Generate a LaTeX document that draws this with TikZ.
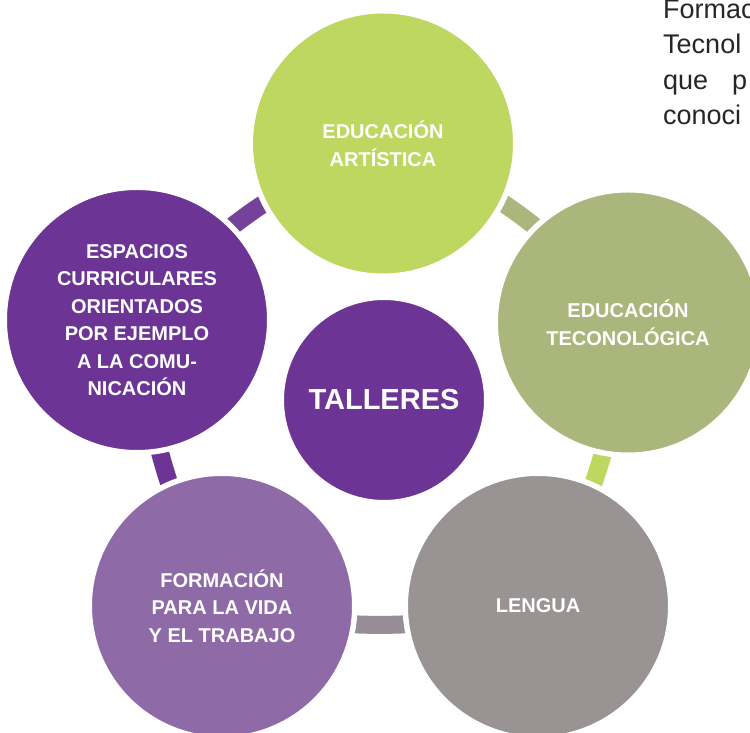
\documentclass[tikz,border=0pt]{standalone}
\usepackage{fontspec}
\setmainfont{Liberation Sans}
\usepackage{tikz}
\usepackage{xcolor}
\definecolor{Lima}{HTML}{BDD761}
\definecolor{Oliva}{HTML}{AAB67C}
\definecolor{Gris}{HTML}{999393}
\definecolor{Lila}{HTML}{8E6AA6}
\definecolor{Uva}{HTML}{6C3595}
\definecolor{Prose}{HTML}{262626}

\pgfdeclarelayer{back}
\pgfsetlayers{back,main}

\begin{document}
\begin{tikzpicture}
    [
        x=1pt, y=1pt,
        petal/.style={circle, draw=white, line width=5.5pt, minimum size=265.5pt, inner sep=0pt,
            text=white, align=center, font=\fontsize{20}{27.5}\selectfont\bfseries},
        link/.style={line width=18pt},
        prose/.style={anchor=base west, inner sep=0pt, text=Prose, font=\fontsize{27}{32}\selectfont}
    ]
    \useasboundingbox (0,0) rectangle (750,733);
    \clip (0,0) rectangle (750,733);
    % text of the page behind the diagram
    \node[prose] (l1) at (663,714) {Formac};
    \node[prose] (l2) at (663,679) {Tecnol};
    \node[prose] (l3) at (663,643.5) {que\hspace{24pt}p};
    \node[prose] (l4) at (663,608) {conoci};
    % the five outer circles and the hub
    \node[petal, fill=Lima] (arte) at (383,589.5) {EDUCACIÓN\\ARTÍSTICA};
    \node[petal, fill=Oliva] (tecno) at (628,410.5) {EDUCACIÓN\\TECONOLÓGICA};
    \node[petal, fill=Gris] (lengua) at (538,127) {LENGUA};
    \node[petal, fill=Lila] (vida) at (222,127) {FORMACIÓN\\PARA LA VIDA\\Y EL TRABAJO};
    \node[petal, fill=Uva] (espacios) at (137,413) {ESPACIOS\\CURRICULARES\\ORIENTADOS\\POR EJEMPLO\\A LA COMU-\\NICACIÓN};
    \node[petal, fill=Uva, minimum size=205.5pt, font=\fontsize{29}{34}\selectfont\bfseries] (talleres) at (384,333) {TALLERES};
    \begin{pgfonlayer}{back}
        \foreach \a/\b/\c/\t in {arte/tecno/Oliva/15, tecno/lengua/Lima/10.5, lengua/vida/Gris!85!Lila/11.8,
                vida/espacios/Uva/10.5, espacios/arte/Uva!75!Lila/13.7}
            \draw[link, color=\c] (\a.center) to[bend left=\t] (\b.center);
    \end{pgfonlayer}
\end{tikzpicture}
\end{document}
